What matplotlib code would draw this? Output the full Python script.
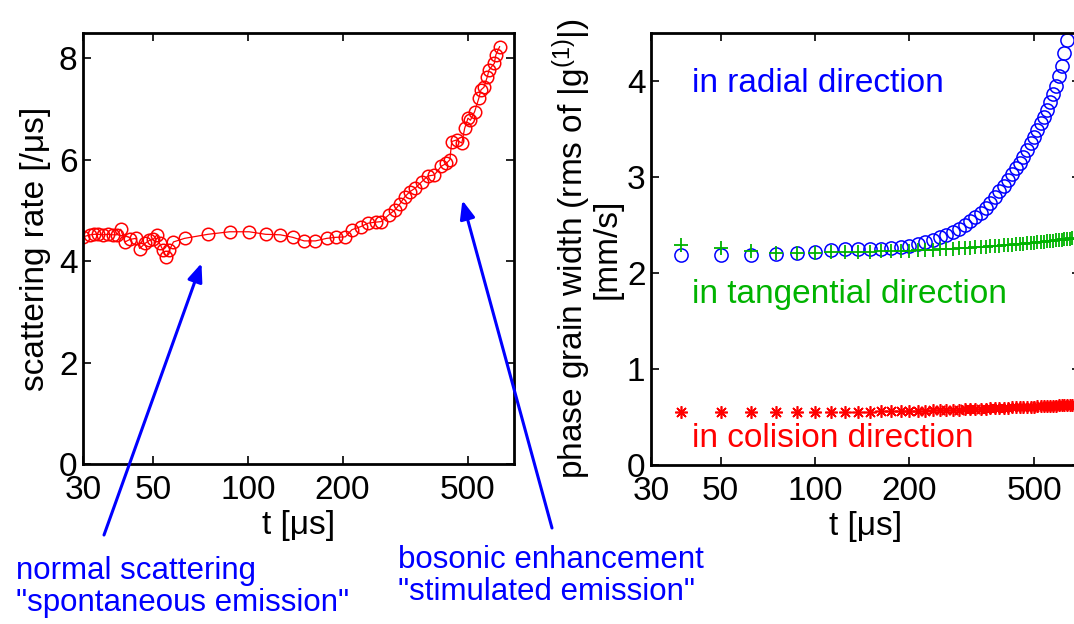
import numpy as np
import matplotlib
matplotlib.use("Agg")
import matplotlib.pyplot as plt
from matplotlib.ticker import NullLocator

plt.rcParams['font.family'] = ['Liberation Sans', 'DejaVu Sans']
plt.rcParams['mathtext.fontset'] = 'custom'
plt.rcParams['mathtext.rm'] = 'Liberation Sans'
plt.rcParams['mathtext.it'] = 'Liberation Sans:italic'

# left panel: scattering rate vs time
t_rate = [30, 31.6, 32.5, 33.4, 34.6, 36.0, 37.3, 38.4, 39.5, 40.8,
          42.3, 44.1, 45.4, 47.2, 48.7, 50.1, 51.5, 52.5, 53.7, 55.1,
          56.4, 58.1, 63.0, 74.7, 87.6, 101, 114, 127, 139, 151,
          164, 178, 190, 204, 214, 228, 241, 255, 265, 280,
          293, 304, 315, 327, 340, 357, 373, 391, 411, 427,
          438, 444, 460, 478, 488, 500, 509, 525, 541, 550,
          562, 576, 583, 606, 613, 630]
rate = [4.48, 4.52, 4.53, 4.53, 4.52, 4.53, 4.52, 4.52, 4.63, 4.38,
        4.43, 4.45, 4.25, 4.35, 4.41, 4.43, 4.52, 4.35, 4.23, 4.09,
        4.22, 4.38, 4.45, 4.53, 4.58, 4.58, 4.53, 4.52, 4.47, 4.40,
        4.40, 4.45, 4.47, 4.48, 4.62, 4.68, 4.75, 4.77, 4.78, 4.91,
        5.01, 5.13, 5.27, 5.37, 5.44, 5.57, 5.68, 5.70, 5.87, 5.93,
        6.00, 6.36, 6.39, 6.33, 6.62, 6.82, 6.78, 6.95, 7.21, 7.38,
        7.43, 7.64, 7.77, 7.90, 8.07, 8.23]

# right panel: phase grain widths vs time
t_width = [37.5, 50, 62.5, 75, 87.5, 100, 112.5, 125, 137.5, 150,
           162.5, 175, 187.5, 200, 212.5, 225, 237.5, 250, 262.5, 275,
           287.5, 300, 312.5, 325, 337.5, 350, 362.5, 375, 387.5, 400,
           412.5, 425, 437.5, 450, 462.5, 475, 487.5, 500, 512.5, 525,
           537.5, 550, 562.5, 575, 587.5, 600, 612.5, 625, 637.5, 650,
           662.5]
w_radial = [2.19, 2.19, 2.19, 2.20, 2.21, 2.22, 2.24, 2.25, 2.25, 2.25,
            2.25, 2.26, 2.27, 2.28, 2.30, 2.32, 2.34, 2.37, 2.40, 2.43,
            2.46, 2.50, 2.54, 2.58, 2.63, 2.68, 2.73, 2.79, 2.85, 2.91,
            2.97, 3.03, 3.09, 3.15, 3.21, 3.28, 3.35, 3.42, 3.49, 3.56,
            3.63, 3.70, 3.78, 3.86, 3.95, 4.05, 4.16, 4.29, 4.43, 4.58,
            4.74]
w_tangential = [2.29, 2.26, 2.23, 2.21, 2.21, 2.21, 2.22, 2.22, 2.22, 2.22,
                2.23, 2.23, 2.23, 2.23, 2.24, 2.24, 2.24, 2.25, 2.25, 2.25,
                2.26, 2.26, 2.26, 2.27, 2.27, 2.27, 2.28, 2.28, 2.28, 2.29,
                2.29, 2.29, 2.30, 2.30, 2.30, 2.31, 2.31, 2.31, 2.32, 2.32,
                2.32, 2.33, 2.33, 2.33, 2.34, 2.34, 2.34, 2.35, 2.35, 2.35,
                2.36]
w_collision = [0.55, 0.55, 0.55, 0.55, 0.55, 0.55, 0.55, 0.55, 0.55, 0.555,
               0.56, 0.56, 0.56, 0.56, 0.565, 0.565, 0.57, 0.57, 0.57, 0.575,
               0.575, 0.58, 0.58, 0.58, 0.585, 0.585, 0.59, 0.59, 0.59, 0.595,
               0.595, 0.60, 0.60, 0.60, 0.60, 0.605, 0.605, 0.605, 0.61, 0.61,
               0.61, 0.61, 0.615, 0.615, 0.615, 0.62, 0.62, 0.62, 0.62, 0.625,
               0.625]

xticks = [30, 50, 100, 200, 500]
green = (0, 0.7, 0)
fs = 24


def styleAxes(ax, ymax, yticks):
    ax.set_xscale('log')
    ax.set_xlim(30, 700)
    ax.set_ylim(0, ymax)
    ax.set_xticks(xticks)
    ax.set_xticklabels([str(v) for v in xticks])
    ax.xaxis.set_minor_locator(NullLocator())
    ax.set_yticks(yticks)
    ax.set_yticklabels([str(v) for v in yticks])
    ax.tick_params(direction='in', length=6, width=1.2, top=True, right=True,
                   labelsize=fs, pad=4)
    ax.tick_params(axis='x', pad=8)
    for s in ax.spines.values():
        s.set_linewidth(2)
    ax.set_xlabel(u"t [\u03bcs]", fontsize=fs, labelpad=3)


fig = plt.figure(figsize=(10.74, 6.24), dpi=100)

ax1 = fig.add_axes([0.0773, 0.2564, 0.4013, 0.6907])
ax1.plot(t_rate, rate, '-o', color='r', mfc='none', ms=9, mew=1.1, lw=0.9)
styleAxes(ax1, 8.5, [0, 2, 4, 6, 8])
ax1.set_ylabel(u"scattering rate [/\u03bcs]", fontsize=fs, labelpad=6)

ax2 = fig.add_axes([0.6061, 0.2548, 0.3994, 0.6923])
ax2.plot(t_width, w_radial, 'o', color='b', mfc='none', ms=9.5, mew=1.1)
ax2.plot(t_width, w_tangential, '+', color=green, ms=10, mew=1.3)
ax2.plot(t_width, w_collision, marker=(8, 2, 0), ls='none', color='r', ms=9, mew=1.2)
styleAxes(ax2, 4.5, [0, 1, 2, 3, 4])
ax2.set_ylabel("phase grain width (rms of |g$^{(1)}$|)\n[mm/s]", fontsize=fs,
               labelpad=3, linespacing=0.95)

ax2.text(40.5, 3.97, "in radial direction", color='b', fontsize=fs, va='center')
ax2.text(40.5, 1.78, "in tangential direction", color=green, fontsize=fs, va='center')
ax2.text(40.5, 0.28, "in colision direction", color='r', fontsize=fs, va='center')

# arrows from the notes below the axes to the curve
arrow = dict(arrowstyle='-|>,head_length=1.1,head_width=0.45', color='b', lw=2.2,
             mutation_scale=10, shrinkA=0, shrinkB=0)
ax1.annotate('', xy=(71.3, 3.96), xytext=(104, 89), textcoords='figure pixels',
             arrowprops=arrow, annotation_clip=False)
ax1.annotate('', xy=(480, 5.2), xytext=(552, 96), textcoords='figure pixels',
             arrowprops=arrow, annotation_clip=False)

fig.text(16 / 1074, 1 - 587 / 624, 'normal scattering\n"spontaneous emission"',
         color='b', fontsize=22.5, va='center', ha='left', linespacing=1.05)
fig.text(398 / 1074, 1 - 576 / 624, 'bosonic enhancement\n"stimulated emission"',
         color='b', fontsize=22.5, va='center', ha='left', linespacing=1.05)

fig.savefig('out.png', dpi=100)
